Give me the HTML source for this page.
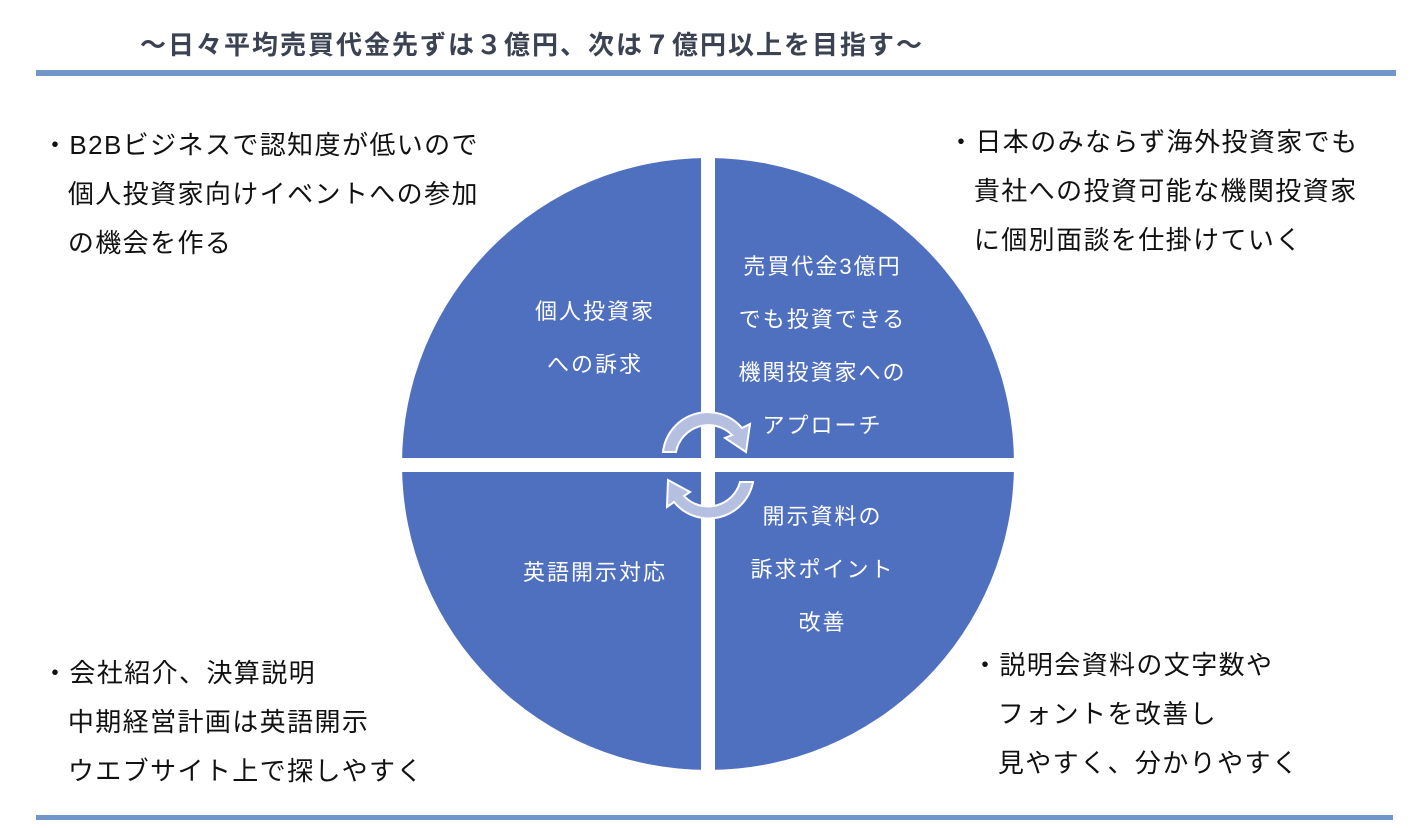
<!DOCTYPE html>
<html><head><meta charset="utf-8"><style>
body{margin:0;width:1422px;height:828px;background:#fff;position:relative;overflow:hidden;font-family:"Liberation Sans","Noto Sans CJK JP",sans-serif}
.t{position:absolute;white-space:nowrap}
.title{left:140px;top:25px;font-size:26px;font-weight:bold;color:#3b4252;letter-spacing:2px}
.bar{position:absolute;background:#7097c9}
.b{font-size:26px;color:#111;line-height:49px;letter-spacing:1.4px}
.w{color:#fff;font-size:22px;line-height:53px;text-align:center;letter-spacing:2px}
</style></head><body>
<div class="t title">〜日々平均売買代金先ずは３億円、次は７億円以上を目指す〜</div>
<div class="bar" style="left:36px;top:70px;width:1360px;height:6px"></div>
<div class="bar" style="left:36px;top:815px;width:1357px;height:5px"></div>
<svg style="position:absolute;left:0;top:0" width="1422" height="828">
<circle cx="708" cy="464" r="306" fill="#4f6fbf"/>
<rect x="701" y="150" width="14" height="630" fill="#fff"/>
<rect x="395" y="458" width="630" height="14" fill="#fff"/>
<g fill="#b5bfe0" stroke="#fff" stroke-width="2">
<path d="M663 452 A45 45 0 0 1 742 428 L750 424 L746 452 L725 438 L732 435 A33 33 0 0 0 676 452 Z"/>
<path d="M753 482 A45 45 0 0 1 674 502 L667 507 L668 480 L690 492 L684 496 A33 33 0 0 0 740 482 Z"/>
</g>
</svg>
<div class="t b" style="left:42px;top:121px">・B2Bビジネスで認知度が低いので<br>&nbsp;&nbsp;&nbsp;個人投資家向けイベントへの参加<br>&nbsp;&nbsp;&nbsp;の機会を作る</div>
<div class="t b" style="left:948px;top:118px">・日本のみならず海外投資家でも<br>&nbsp;&nbsp;&nbsp;貴社への投資可能な機関投資家<br>&nbsp;&nbsp;&nbsp;に個別面談を仕掛けていく</div>
<div class="t b" style="left:42px;top:649px">・会社紹介、決算説明<br>&nbsp;&nbsp;&nbsp;中期経営計画は英語開示<br>&nbsp;&nbsp;&nbsp;ウエブサイト上で探しやすく</div>
<div class="t b" style="left:972px;top:641px">・説明会資料の文字数や<br>&nbsp;&nbsp;&nbsp;フォントを改善し<br>&nbsp;&nbsp;&nbsp;見やすく、分かりやすく</div>
<div class="t w" style="left:515px;top:285px;width:160px">個人投資家<br>への訴求</div>
<div class="t w" style="left:715px;top:240px;width:215px">売買代金3億円<br>でも投資できる<br>機関投資家への<br>アプローチ</div>
<div class="t w" style="left:495px;top:546px;width:200px">英語開示対応</div>
<div class="t w" style="left:730px;top:490px;width:185px">開示資料の<br>訴求ポイント<br>改善</div>
</body></html>
